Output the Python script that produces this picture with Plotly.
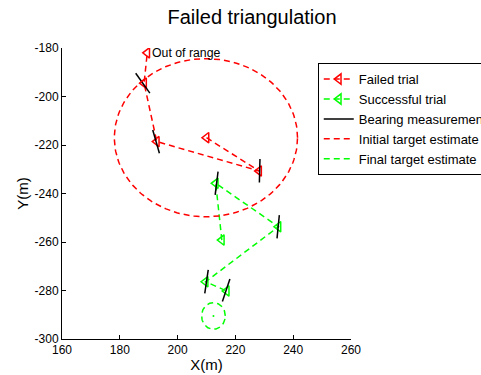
import numpy as np
import plotly.graph_objects as go

# ---- data ----
failed_x = [210.0, 228.2, 192.8, 188.4, 189.5]
failed_y = [-217.0, -230.7, -218.6, -194.5, -182.0]

success_x = [215.3, 213.2, 234.9, 209.7, 217.0]
success_y = [-259.2, -235.8, -253.7, -276.4, -280.2]

# bearing measurement segments (start x, start y, end x, end y)
bearing_x0 = [185.5, 191.4, 228.5, 214.0, 235.2, 210.6, 218.1]
bearing_y0 = [-190.4, -213.8, -225.8, -231.0, -248.9, -271.5, -275.3]
bearing_x1 = [190.4, 193.7, 228.3, 213.0, 234.4, 209.4, 215.5]
bearing_y1 = [-198.6, -223.4, -235.5, -240.6, -258.5, -281.2, -284.5]

# target estimates: centre and radii (x, y)
initial_center = (209.8, -217.0)
initial_radius = (31.7, 32.6)
final_center = (212.4, -290.5)
final_radius = (4.1, 5.5)

out_of_range_label = "Out of range"

x_ticks = [160, 180, 200, 220, 240, 260]
x_tick_labels = ["160", "180", "200", "220", "240", "260"]
y_ticks = [-300, -280, -260, -240, -220, -200, -180]
y_tick_labels = ["-300", "-280", "-260", "-240", "-220", "-200", "-180"]

FONT = "Liberation Sans"
RED = "#ff0000"
GREEN = "#00ff00"
DASH = "6px,4px"


def ellipse(center, radius, n=200):
    t = np.linspace(0, 2 * np.pi, n)
    return center[0] + radius[0] * np.cos(t), center[1] + radius[1] * np.sin(t)


fig = go.Figure()

fig.add_trace(go.Scatter(
    x=failed_x, y=failed_y, mode="lines+markers", name="Failed trial",
    line=dict(color=RED, width=1.5, dash=DASH),
    marker=dict(symbol="triangle-left-open", size=9, color=RED,
                line=dict(width=1.5, color=RED)),
))
fig.add_trace(go.Scatter(
    x=success_x, y=success_y, mode="lines+markers", name="Successful trial",
    line=dict(color=GREEN, width=1.5, dash=DASH),
    marker=dict(symbol="triangle-left-open", size=9, color=GREEN,
                line=dict(width=1.5, color=GREEN)),
))

bx, by = [], []
for a, b, c, d in zip(bearing_x0, bearing_y0, bearing_x1, bearing_y1):
    bx += [a, c, None]
    by += [b, d, None]
fig.add_trace(go.Scatter(
    x=bx, y=by, mode="lines", name="Bearing measurement",
    line=dict(color="black", width=1.5),
))

ix, iy = ellipse(initial_center, initial_radius)
fig.add_trace(go.Scatter(
    x=ix, y=iy, mode="lines", name="Initial target estimate",
    line=dict(color=RED, width=1.5, dash=DASH),
))
fx, fy = ellipse(final_center, final_radius)
fig.add_trace(go.Scatter(
    x=fx, y=fy, mode="lines", name="Final target estimate",
    line=dict(color=GREEN, width=1.5, dash=DASH),
))
fig.add_trace(go.Scatter(
    x=[final_center[0]], y=[final_center[1]], mode="markers", showlegend=False,
    marker=dict(symbol="circle", size=2, color=GREEN),
))

fig.add_annotation(
    x=failed_x[-1], y=failed_y[-1], text=out_of_range_label, showarrow=False,
    xanchor="left", yanchor="middle", xshift=3,
    font=dict(family=FONT, size=12.3, color="black"),
)

axis_common = dict(
    showline=True, linecolor="black", linewidth=1,
    ticks="inside", ticklen=4, tickcolor="black", tickwidth=1,
    showgrid=False, zeroline=False, mirror=False,
    tickfont=dict(family=FONT, size=12, color="black"),
)

fig.update_layout(
    width=481, height=375,
    margin=dict(l=62, r=130, t=48, b=36, autoexpand=False),
    paper_bgcolor="white", plot_bgcolor="white",
    font=dict(family=FONT, size=12, color="black"),
    title=dict(text="Failed triangulation", x=0.524, xanchor="center",
               y=0.955, yanchor="middle",
               font=dict(family=FONT, size=20, color="black")),
    xaxis=dict(range=[160, 260], tickvals=x_ticks, ticktext=x_tick_labels,
               title=dict(text="X(m)", font=dict(family=FONT, size=15), standoff=3),
               **axis_common),
    yaxis=dict(range=[-300, -180], tickvals=y_ticks, ticktext=y_tick_labels,
               title=dict(text="Y(m)", font=dict(family=FONT, size=15), standoff=2),
               **axis_common),
    legend=dict(x=0.885, y=0.948, xanchor="left", yanchor="top",
                bgcolor="white", bordercolor="black", borderwidth=1,
                font=dict(family=FONT, size=13, color="black")),
    showlegend=True,
)

fig.write_html("out.html")
